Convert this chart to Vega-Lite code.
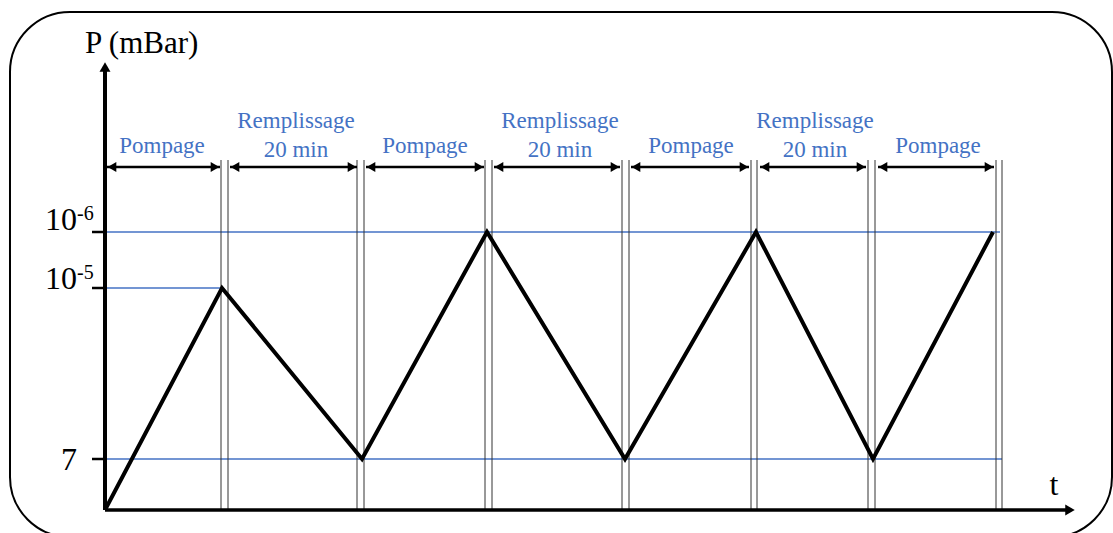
{
  "$schema": "https://vega.github.io/schema/vega-lite/v6.json",
  "width": 1113,
  "height": 533,
  "autosize": "none",
  "padding": 0,
  "background": "white",
  "config": {"view": {"stroke": null}},
  "datasets": {
    "border": [{"t": -95, "t2": 1007, "p": -27, "p2": 498}],
    "levels": [
      {"level": "1e-6", "t": 0, "t2": 895, "p": 278},
      {"level": "1e-5", "t": 0, "t2": 117, "p": 222},
      {"level": "7", "t": 0, "t2": 897, "p": 51}
    ],
    "ticks": [
      {"t": -13, "t2": 0, "p": 278},
      {"t": -13, "t2": 0, "p": 222},
      {"t": -13, "t2": 0, "p": 51}
    ],
    "separators": [
      {"t": 116, "p": 0, "p2": 350}, {"t": 123, "p": 0, "p2": 350},
      {"t": 252, "p": 0, "p2": 350}, {"t": 259, "p": 0, "p2": 350},
      {"t": 380, "p": 0, "p2": 350}, {"t": 387, "p": 0, "p2": 350},
      {"t": 517, "p": 0, "p2": 350}, {"t": 524, "p": 0, "p2": 350},
      {"t": 646, "p": 0, "p2": 350}, {"t": 652, "p": 0, "p2": 350},
      {"t": 763, "p": 0, "p2": 350}, {"t": 770, "p": 0, "p2": 350},
      {"t": 891, "p": 0, "p2": 350}, {"t": 897, "p": 0, "p2": 350}
    ],
    "pressure": [
      {"i": 0, "t": 0, "p": 0},
      {"i": 1, "t": 117, "p": 222},
      {"i": 2, "t": 257, "p": 51},
      {"i": 3, "t": 382, "p": 278},
      {"i": 4, "t": 520, "p": 51},
      {"i": 5, "t": 651, "p": 278},
      {"i": 6, "t": 768, "p": 51},
      {"i": 7, "t": 888, "p": 278}
    ],
    "spans": [
      {"t": 2, "t2": 115, "p": 343},
      {"t": 125, "t2": 252, "p": 343},
      {"t": 261, "t2": 379, "p": 343},
      {"t": 389, "t2": 515, "p": 343},
      {"t": 526, "t2": 644, "p": 343},
      {"t": 655, "t2": 761, "p": 343},
      {"t": 773, "t2": 889, "p": 343}
    ],
    "phaseLabels": [
      {"label": "Pompage", "t": 57, "p": 357},
      {"label": "Remplissage", "t": 191, "p": 382},
      {"label": "20 min", "t": 191, "p": 353},
      {"label": "Pompage", "t": 320, "p": 357},
      {"label": "Remplissage", "t": 455, "p": 382},
      {"label": "20 min", "t": 455, "p": 353},
      {"label": "Pompage", "t": 586, "p": 357},
      {"label": "Remplissage", "t": 710, "p": 382},
      {"label": "20 min", "t": 710, "p": 353},
      {"label": "Pompage", "t": 833, "p": 357}
    ],
    "yAxis": [{"t": 0, "p": 0, "p2": 440}],
    "yHead": [{"t": 0, "p": 443}],
    "xAxis": [{"t": 0, "t2": 962, "p": 0}],
    "xHead": [{"t": 965, "p": 0}],
    "bases": [
      {"label": "10", "t": -28, "p": 280},
      {"label": "10", "t": -28, "p": 221}
    ],
    "exponents": [
      {"label": "-6", "t": -28, "p": 290},
      {"label": "-5", "t": -28, "p": 231}
    ],
    "seven": [{"label": "7", "t": -28, "p": 50}],
    "yTitle": [{"label": "P (mBar)", "t": -20, "p": 457}],
    "xTitle": [{"label": "t", "t": 949, "p": 15}]
  },
  "layer": [
    {
      "data": {"name": "border"},
      "mark": {"type": "rect", "fill": "transparent", "stroke": "black", "strokeWidth": 2, "cornerRadius": 60},
      "encoding": {
        "x": {"field": "t", "type": "quantitative", "scale": {"domain": [-105, 1008], "nice": false, "zero": false}, "axis": null},
        "x2": {"field": "t2"},
        "y": {"field": "p", "type": "quantitative", "scale": {"domain": [-23, 510], "nice": false, "zero": false}, "axis": null},
        "y2": {"field": "p2"}
      }
    },
    {
      "data": {"name": "levels"},
      "mark": {"type": "rule", "color": "#4472C4", "strokeWidth": 1.5},
      "encoding": {
        "x": {"field": "t", "type": "quantitative"},
        "x2": {"field": "t2"},
        "y": {"field": "p", "type": "quantitative"}
      }
    },
    {
      "data": {"name": "separators"},
      "mark": {"type": "rule", "color": "#333333", "strokeWidth": 1},
      "encoding": {
        "x": {"field": "t", "type": "quantitative"},
        "y": {"field": "p", "type": "quantitative"},
        "y2": {"field": "p2"}
      }
    },
    {
      "data": {"name": "ticks"},
      "mark": {"type": "rule", "color": "black", "strokeWidth": 2.5},
      "encoding": {
        "x": {"field": "t", "type": "quantitative"},
        "x2": {"field": "t2"},
        "y": {"field": "p", "type": "quantitative"}
      }
    },
    {
      "data": {"name": "pressure"},
      "mark": {"type": "line", "color": "black", "strokeWidth": 4, "strokeJoin": "miter"},
      "encoding": {
        "x": {"field": "t", "type": "quantitative"},
        "y": {"field": "p", "type": "quantitative"},
        "order": {"field": "i"}
      }
    },
    {
      "data": {"name": "spans"},
      "mark": {"type": "rule", "color": "black", "strokeWidth": 2.5},
      "encoding": {
        "x": {"field": "t", "type": "quantitative"},
        "x2": {"field": "t2"},
        "y": {"field": "p", "type": "quantitative"}
      }
    },
    {
      "data": {"name": "spans"},
      "mark": {"type": "point", "shape": "triangle-left", "filled": true, "color": "black", "size": 100, "opacity": 1, "xOffset": 5},
      "encoding": {
        "x": {"field": "t", "type": "quantitative"},
        "y": {"field": "p", "type": "quantitative"}
      }
    },
    {
      "data": {"name": "spans"},
      "mark": {"type": "point", "shape": "triangle-right", "filled": true, "color": "black", "size": 100, "opacity": 1, "xOffset": -5},
      "encoding": {
        "x": {"field": "t2", "type": "quantitative"},
        "y": {"field": "p", "type": "quantitative"}
      }
    },
    {
      "data": {"name": "yAxis"},
      "mark": {"type": "rule", "color": "black", "strokeWidth": 4},
      "encoding": {
        "x": {"field": "t", "type": "quantitative"},
        "y": {"field": "p", "type": "quantitative"},
        "y2": {"field": "p2"}
      }
    },
    {
      "data": {"name": "yHead"},
      "mark": {"type": "point", "shape": "triangle-up", "filled": true, "color": "black", "size": 120, "opacity": 1},
      "encoding": {
        "x": {"field": "t", "type": "quantitative"},
        "y": {"field": "p", "type": "quantitative"}
      }
    },
    {
      "data": {"name": "xAxis"},
      "mark": {"type": "rule", "color": "black", "strokeWidth": 3.5},
      "encoding": {
        "x": {"field": "t", "type": "quantitative"},
        "x2": {"field": "t2"},
        "y": {"field": "p", "type": "quantitative"}
      }
    },
    {
      "data": {"name": "xHead"},
      "mark": {"type": "point", "shape": "triangle-right", "filled": true, "color": "black", "size": 120, "opacity": 1},
      "encoding": {
        "x": {"field": "t", "type": "quantitative"},
        "y": {"field": "p", "type": "quantitative"}
      }
    },
    {
      "data": {"name": "phaseLabels"},
      "mark": {"type": "text", "font": "Liberation Serif", "fontSize": 23, "color": "#4472C4", "align": "center", "baseline": "alphabetic"},
      "encoding": {
        "x": {"field": "t", "type": "quantitative"},
        "y": {"field": "p", "type": "quantitative"},
        "text": {"field": "label"}
      }
    },
    {
      "data": {"name": "bases"},
      "mark": {"type": "text", "font": "Liberation Serif", "fontSize": 32, "color": "black", "align": "right", "baseline": "alphabetic"},
      "encoding": {
        "x": {"field": "t", "type": "quantitative"},
        "y": {"field": "p", "type": "quantitative"},
        "text": {"field": "label"}
      }
    },
    {
      "data": {"name": "exponents"},
      "mark": {"type": "text", "font": "Liberation Serif", "fontSize": 20, "color": "black", "align": "left", "baseline": "alphabetic"},
      "encoding": {
        "x": {"field": "t", "type": "quantitative"},
        "y": {"field": "p", "type": "quantitative"},
        "text": {"field": "label"}
      }
    },
    {
      "data": {"name": "seven"},
      "mark": {"type": "text", "font": "Liberation Serif", "fontSize": 32, "color": "black", "align": "right", "baseline": "middle"},
      "encoding": {
        "x": {"field": "t", "type": "quantitative"},
        "y": {"field": "p", "type": "quantitative"},
        "text": {"field": "label"}
      }
    },
    {
      "data": {"name": "yTitle"},
      "mark": {"type": "text", "font": "Liberation Serif", "fontSize": 31, "color": "black", "align": "left", "baseline": "alphabetic"},
      "encoding": {
        "x": {"field": "t", "type": "quantitative"},
        "y": {"field": "p", "type": "quantitative"},
        "text": {"field": "label"}
      }
    },
    {
      "data": {"name": "xTitle"},
      "mark": {"type": "text", "font": "Liberation Serif", "fontSize": 32, "color": "black", "align": "center", "baseline": "alphabetic"},
      "encoding": {
        "x": {"field": "t", "type": "quantitative"},
        "y": {"field": "p", "type": "quantitative"},
        "text": {"field": "label"}
      }
    }
  ]
}
